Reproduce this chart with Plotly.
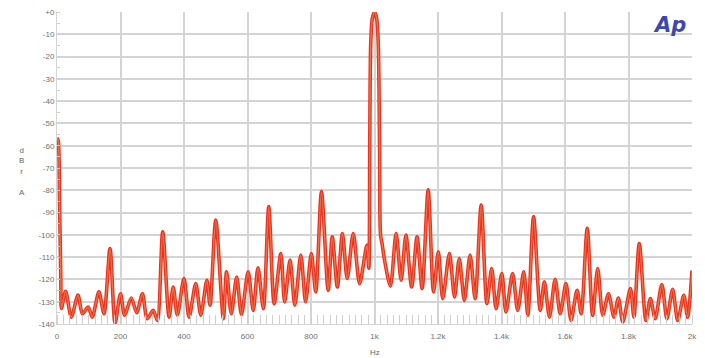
import plotly.graph_objects as go

# Spectrum readings (frequency in Hz, level in dBrA)
freq_hz = [0, 4, 8, 12, 14, 27, 45, 66, 80, 98, 111, 132, 148, 167, 183, 200, 213, 234, 251, 269,
           284, 303, 316, 333, 353, 366, 379, 400, 416, 437, 453, 472, 482, 500, 524, 534, 549, 566,
           581, 602, 618, 633, 650, 667, 684, 705, 717, 734, 749, 768, 783, 801, 815, 833, 854, 867,
           883, 899, 914, 933, 953, 976, 982, 985, 988, 993, 1000, 1007, 1012, 1016, 1019, 1024,
           1030, 1050, 1068, 1084, 1099, 1117, 1134, 1150, 1169, 1186, 1201, 1215, 1236, 1252, 1267,
           1283, 1301, 1317, 1336, 1354, 1369, 1383, 1401, 1414, 1435, 1451, 1470, 1483, 1501,
           1522, 1535, 1551, 1569, 1585, 1603, 1619, 1638, 1651, 1670, 1687, 1703, 1719, 1737,
           1754, 1768, 1782, 1806, 1817, 1834, 1855, 1869, 1884, 1905, 1921, 1939, 1955, 1974,
           1986, 2000]
level_dbra = [-56.5, -58, -85, -120, -133, -125.3, -136.9, -127, -135.4, -132.4, -136.9, -125.6,
              -135.4, -106.1, -139.6, -126.4, -136, -128.3, -134.9, -126.4, -137.6, -133.9, -138.4,
              -98.6, -136.9, -123.4, -136, -119.6, -136.9, -121.9, -136, -120.4, -131.6, -93.3,
              -137.6, -116.6, -135.4, -118.9, -135.8, -116.6, -133.9, -114.8, -133.1, -87.3,
              -130.9, -108.4, -130.1, -111.3, -131.6, -109.1, -130.1, -108.4, -125.6, -80.6,
              -124.9, -100.9, -123.4, -99.4, -119.6, -99.4, -121.9, -104.6, -115, -60, -15, -3,
              0, -3, -15, -60, -100, -104, -110, -123, -99.4, -120.4, -100.1, -123.4, -100.9, -124.1,
              -79.8, -125.6, -107.6, -128.6, -108.4, -127.9, -110.6, -129.4, -109.1, -128.6,
              -86.6, -130.9, -115.1, -133.1, -117.4, -134.6, -117.4, -133.9, -116.6, -136.1,
              -91.8, -133.9, -121.1, -136.9, -119.9, -135.4, -121.9, -138.4, -124.9, -135.4,
              -97.1, -136.1, -115.1, -136.1, -126.4, -136.9, -128.3, -139.1, -124.1, -136.9,
              -103.9, -138.4, -128.6, -137.6, -122.3, -137.6, -124.4, -138.4, -127.1, -136.9,
              -116]

x_tick_vals = [0, 200, 400, 600, 800, 1000, 1200, 1400, 1600, 1800, 2000]
x_tick_text = ["0", "200", "400", "600", "800", "1k", "1.2k", "1.4k", "1.6k", "1.8k", "2k"]
y_tick_vals = [0, -10, -20, -30, -40, -50, -60, -70, -80, -90, -100, -110, -120, -130, -140]
y_tick_text = ["+0", "-10", "-20", "-30", "-40", "-50", "-60", "-70", "-80", "-90", "-100",
               "-110", "-120", "-130", "-140"]

fig = go.Figure()
fig.add_trace(go.Scatter(x=freq_hz, y=level_dbra, mode="lines",
                         line=dict(color="#e8321e", width=3.6, shape="spline", smoothing=0.8),
                         hoverinfo="skip", showlegend=False))
fig.add_trace(go.Scatter(x=freq_hz, y=level_dbra, mode="lines",
                         line=dict(color="#f4724a", width=1.3, shape="spline", smoothing=0.8),
                         hoverinfo="skip", showlegend=False))

tick_font = dict(family="Liberation Sans, Arial, sans-serif", size=8, color="#707070")

fig.update_layout(
    width=697, height=350,
    margin=dict(l=49, r=13, t=4, b=34, autoexpand=False),
    paper_bgcolor="white", plot_bgcolor="white",
    xaxis=dict(range=[0, 2000], tickvals=x_tick_vals, ticktext=x_tick_text,
               showgrid=True, gridcolor="#d4d4d4", gridwidth=1.5, zeroline=False,
               showline=True, linecolor="#d4d4d4", linewidth=1, automargin=False,
               ticks="", tickfont=tick_font, ticklabelstandoff=4,
               ticklabeloverflow="allow",
               minor=dict(ticks="inside", ticklen=9, dtick=20, tickcolor="#cfcfcf",
                          tickwidth=1, showgrid=False),
               fixedrange=True),
    yaxis=dict(range=[-140, 0], tickvals=y_tick_vals, ticktext=y_tick_text,
               showgrid=True, gridcolor="#d4d4d4", gridwidth=1.5, zeroline=False,
               showline=True, linecolor="#d4d4d4", linewidth=1, automargin=False,
               ticks="", tickfont=tick_font, ticklabeloverflow="allow",
               minor=dict(ticks="inside", ticklen=3, dtick=5, tickcolor="#cfcfcf",
                          showgrid=False),
               fixedrange=True),
    annotations=[
        dict(x=1930, y=-6, xref="x", yref="y", text="Ap", showarrow=False,
             font=dict(family="DejaVu Sans, sans-serif", size=21, color="#3a48b0",
                       weight="bold", style="italic")),
        dict(x=-0.055, y=0.49, xref="paper", yref="paper", text="d<br>B<br>r<br><br>A",
             xanchor="center", yanchor="middle",
             showarrow=False, font=dict(family="Liberation Sans, Arial, sans-serif",
                                        size=8, color="#666666")),
        dict(x=0.5, y=-0.09, xref="paper", yref="paper", text="Hz", showarrow=False,
             xanchor="center", yanchor="middle",
             font=dict(family="Liberation Sans, Arial, sans-serif", size=8, color="#666666")),
    ],
)

fig.write_html("out.html")
